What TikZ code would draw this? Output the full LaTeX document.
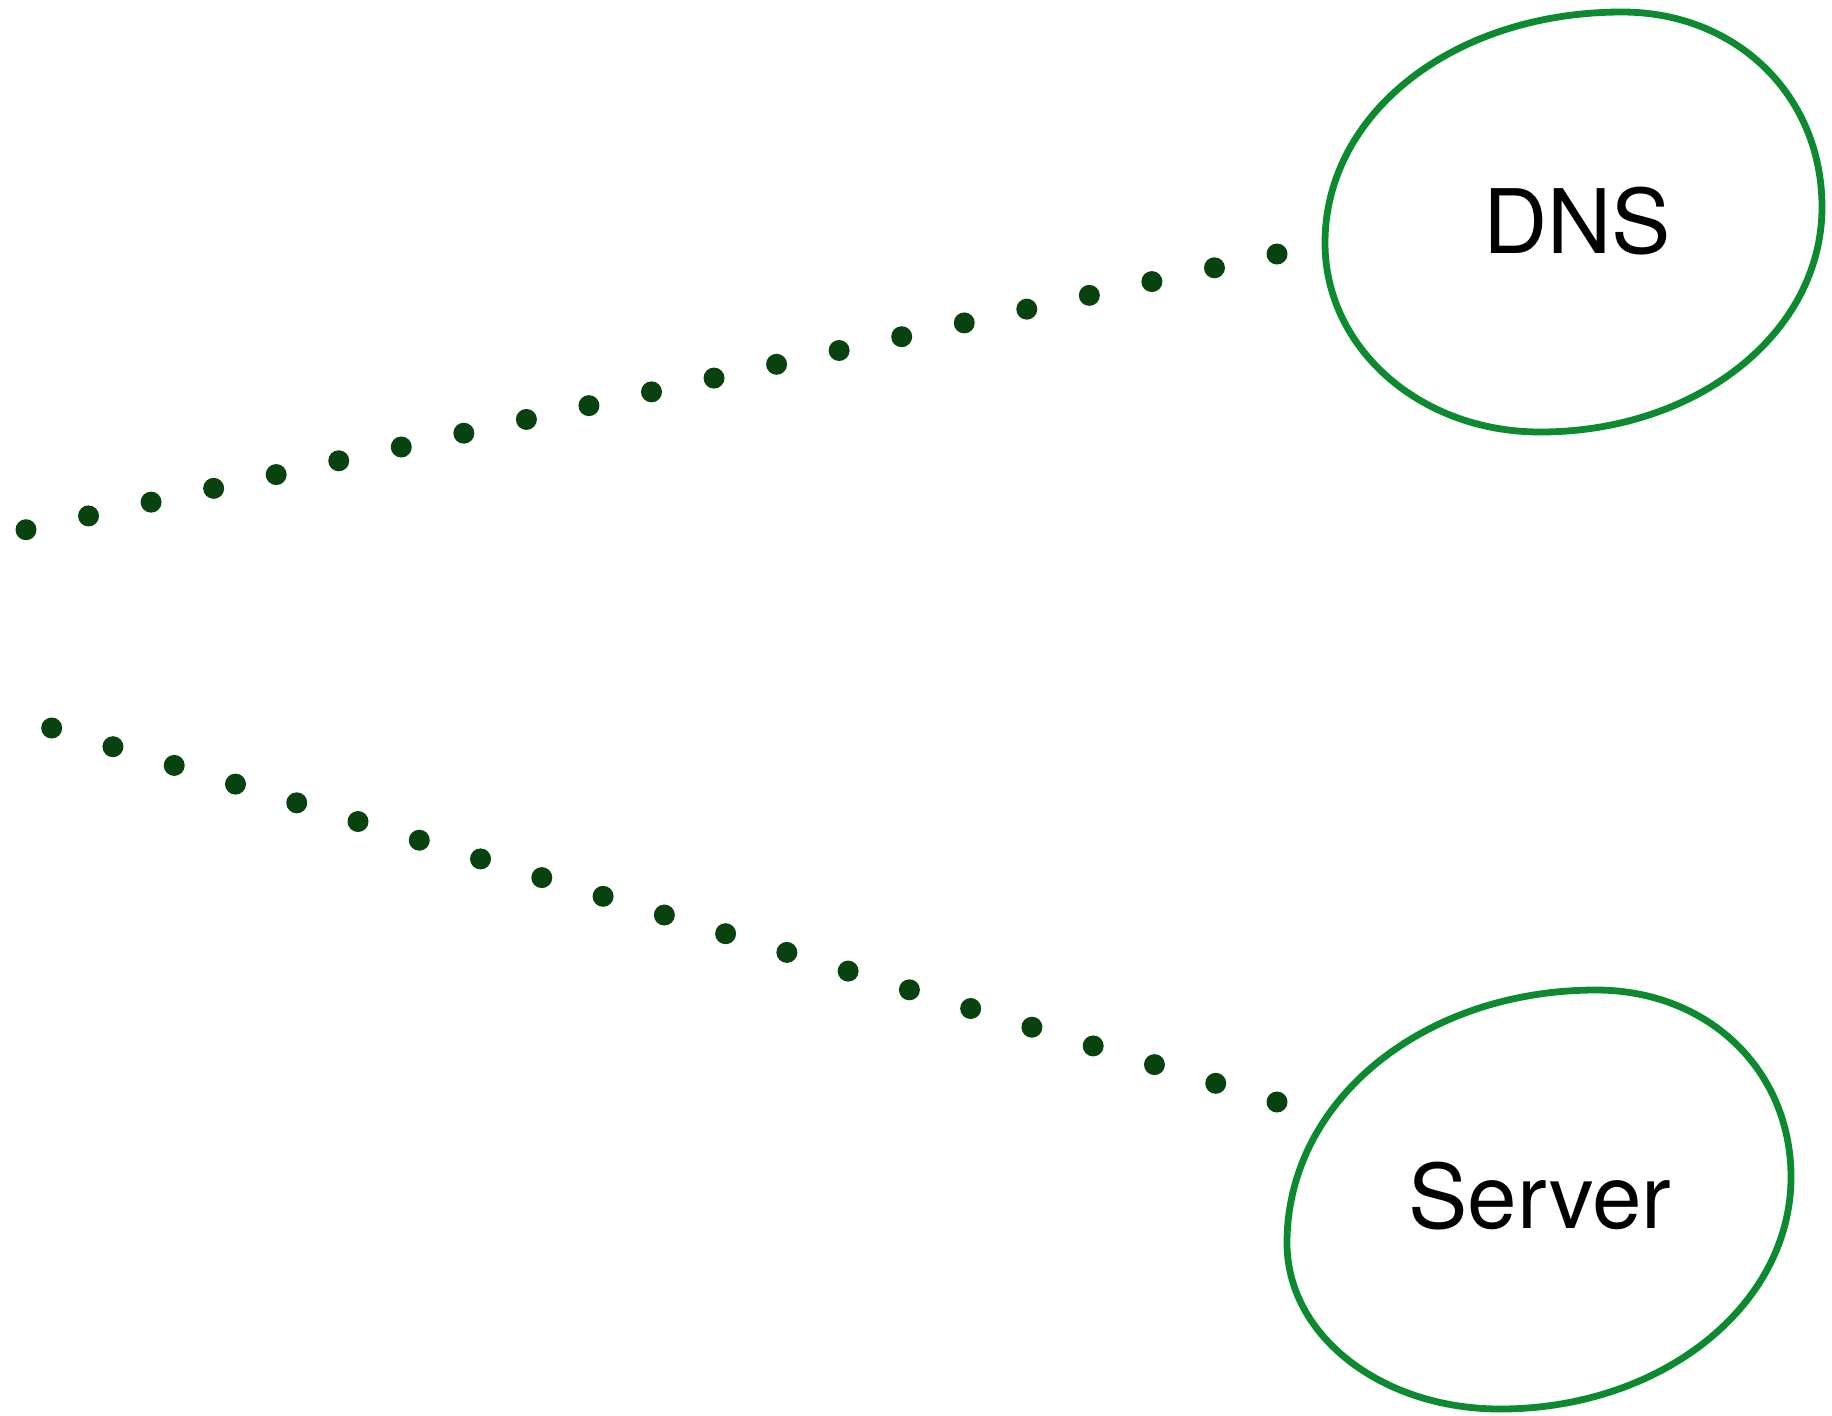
\documentclass[tikz,border=0pt]{standalone}
\usepackage{fontspec}
\setmainfont{TeX Gyre Heros}
\usetikzlibrary{calc}
\definecolor{ringgreen}{HTML}{0B8A2F}
\definecolor{dotgreen}{HTML}{08420E}
\tikzset{
  ring/.style={draw=ringgreen, line width=3.4pt, line join=round},
  label/.style={inner sep=0pt, anchor=base, font=\fontsize{44.5}{53}\selectfont, text=black},
  dotmark/.style={fill=dotgreen},
}
\begin{document}
\begin{tikzpicture}[x=0.5pt,y=-0.5pt]
\useasboundingbox (0,0) rectangle (1832,1415);
% DNS ring
\draw[ring] (1325,243)
  .. controls (1325,112) and (1455,12) .. (1622,12)
  .. controls (1737,12) and (1822,96) .. (1822,207)
  .. controls (1822,333) and (1697,432) .. (1540,432)
  .. controls (1420,432) and (1325,348) .. cycle;
% Server ring
\draw[ring] (1287,1243)
  .. controls (1287,1100) and (1424,990) .. (1596,990)
  .. controls (1708,990) and (1791,1070) .. (1791,1177)
  .. controls (1791,1306) and (1661,1409) .. (1500,1409)
  .. controls (1382,1409) and (1287,1336) .. cycle;
\node[label] (dns) at (1577,253) {DNS};
\node[label] (server) at (1540,1228) {Server};
% dotted connectors
\coordinate (topstart) at (26,529.7);
\coordinate (topend) at (1277,254);
\coordinate (botstart) at (51.7,728);
\coordinate (botend) at (1277,1102);
\foreach \i in {0,...,20}{
  \fill[dotmark] ($(topstart)!\i/20!(topend)$) circle[radius=5.25pt];
  \fill[dotmark] ($(botstart)!\i/20!(botend)$) circle[radius=5.25pt];
}
\end{tikzpicture}
\end{document}
